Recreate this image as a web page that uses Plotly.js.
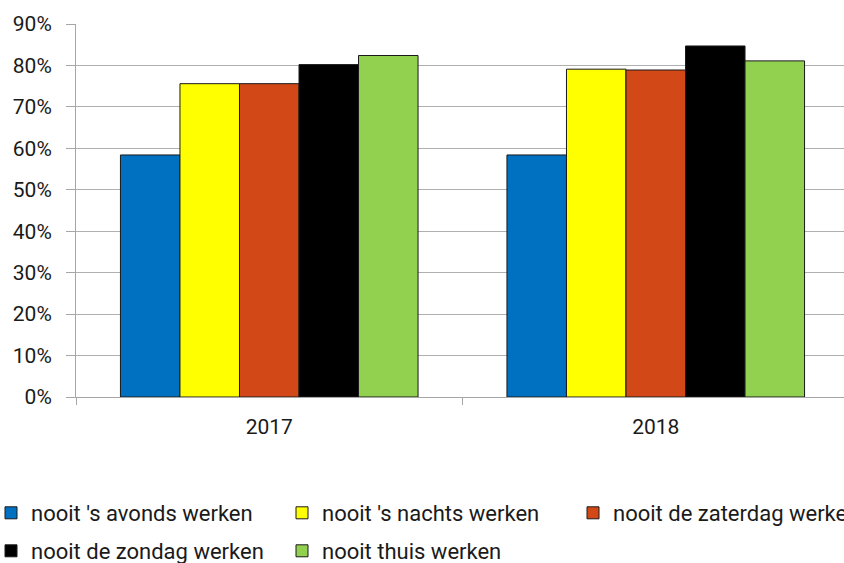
<!DOCTYPE html>
<html>
<head>
<meta charset="utf-8">
<script src="https://cdn.plot.ly/plotly-3.0.1.min.js"></script>
<style>
html, body { margin: 0; padding: 0; overflow: hidden; background: #fff; }
#chart { width: 1000px; height: 563px; }
</style>
</head>
<body>
<div id="chart"></div>
<script>
const categories = ['2017', '2018'];
const seriesNames = [
  "nooit 's avonds werken",
  "nooit 's nachts werken",
  "nooit de zaterdag werken",
  "nooit de zondag werken",
  "nooit thuis werken"
];
const avondsValues = [0.584, 0.584];
const nachtsValues = [0.756, 0.791];
const zaterdagValues = [0.756, 0.789];
const zondagValues = [0.802, 0.847];
const thuisValues = [0.824, 0.811];
const tickValues = [0, 0.1, 0.2, 0.3, 0.4, 0.5, 0.6, 0.7, 0.8, 0.9];

const seriesValues = [avondsValues, nachtsValues, zaterdagValues, zondagValues, thuisValues];
const colors = ['#0070C0', '#FFFF00', '#D34817', '#000000', '#92D050'];
const legendIds = ['legend', 'legend', 'legend', 'legend2', 'legend2'];

const W = 1000, H = 563;
const mL = 76, mR = 0, mT = 24, mB = 166;
const gsW = W - mL - mR;
const gsH = H - mT - mB;
const plotRight = 849;

const traces = seriesNames.map((name, i) => ({
  type: 'bar',
  name: name,
  x: categories,
  y: seriesValues[i],
  legend: legendIds[i],
  marker: { color: colors[i], line: { color: '#1a1a1a', width: 1 } },
  hoverinfo: 'skip'
}));

const font = { family: 'Roboto, sans-serif', size: 21, color: '#1a1a1a' };
const legendFont = { family: 'Roboto, sans-serif', size: 22, color: '#1a1a1a' };
const legendLeftPx = -9;
const legendX = (legendLeftPx - mL) / gsW;
function legendY(topPx) { return (H - mB - topPx) / gsH; }

const layout = {
  width: W,
  height: H,
  margin: { l: mL, r: mR, t: mT, b: mB, autoexpand: false },
  paper_bgcolor: '#ffffff',
  plot_bgcolor: '#ffffff',
  font: font,
  barmode: 'group',
  bargap: 0.23,
  bargroupgap: 0,
  showlegend: true,
  xaxis: {
    type: 'category',
    domain: [0, (plotRight - mL) / gsW],
    tickson: 'boundaries',
    ticks: 'outside',
    ticklen: 7,
    tickcolor: '#a6a6a6',
    tickwidth: 1,
    showline: true,
    linecolor: '#a6a6a6',
    linewidth: 1,
    showgrid: false,
    ticklabelstandoff: 11,
    tickfont: font
  },
  yaxis: {
    range: [0, 0.9],
    tickvals: tickValues,
    tickformat: '.0%',
    ticks: 'outside',
    ticklen: 9,
    tickcolor: '#a6a6a6',
    showline: true,
    linecolor: '#a6a6a6',
    linewidth: 1,
    showgrid: true,
    gridcolor: '#b0b0b0',
    gridwidth: 1,
    zeroline: false,
    ticklabelstandoff: 10,
    tickfont: font,
    fixedrange: true
  },
  legend: {
    orientation: 'h',
    x: legendX,
    xanchor: 'left',
    y: legendY(492),
    yanchor: 'top',
    entrywidth: 246,
    entrywidthmode: 'pixels',
    font: legendFont,
    bgcolor: 'rgba(0,0,0,0)',
    traceorder: 'normal'
  },
  legend2: {
    orientation: 'h',
    x: legendX,
    xanchor: 'left',
    y: legendY(530),
    yanchor: 'top',
    entrywidth: 246,
    entrywidthmode: 'pixels',
    font: legendFont,
    bgcolor: 'rgba(0,0,0,0)',
    traceorder: 'normal'
  }
};

Plotly.newPlot('chart', traces, layout, { displayModeBar: false, staticPlot: true });
</script>
</body>
</html>
